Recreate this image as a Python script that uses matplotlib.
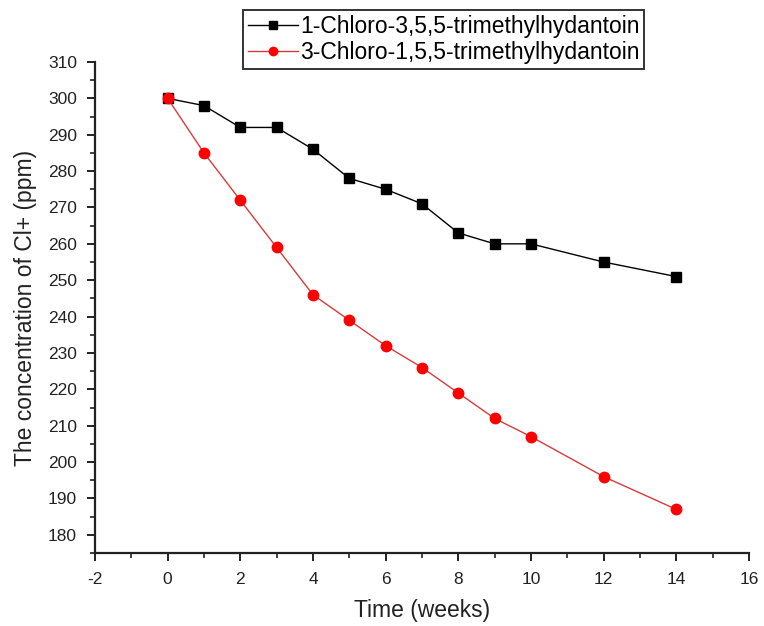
import numpy as np
import matplotlib.pyplot as plt
from matplotlib.ticker import MultipleLocator

plt.rcParams['font.family'] = ['Liberation Sans', 'DejaVu Sans']
plt.rcParams['axes.unicode_minus'] = False

# Time (weeks)
weeks = [0, 1, 2, 3, 4, 5, 6, 7, 8, 9, 10, 12, 14]
# Cl+ concentration (ppm)
cl_135 = [300, 298, 292, 292, 286, 278, 275, 271, 263, 260, 260, 255, 251]
cl_315 = [300, 285, 272, 259, 246, 239, 232, 226, 219, 212, 207, 196, 187]

lab1 = '1-Chloro-3,5,5-trimethylhydantoin'
lab2 = '3-Chloro-1,5,5-trimethylhydantoin'

fig = plt.figure(figsize=(7.64, 6.26), dpi=100)
ax = fig.add_axes([0.1243, 0.1166, 0.8560, 0.7844])

ax.plot(weeks, cl_135, color='black', lw=1.0, marker='s', ms=7.5, label=lab1)
ax.plot(weeks, cl_315, color='#d83a3a', lw=1.0, marker='o', ms=7.5,
        mfc='red', mec='red', label=lab2)

ax.set_xlim(-2, 16)
ax.set_ylim(175, 310)
ax.xaxis.set_major_locator(MultipleLocator(2))
ax.xaxis.set_minor_locator(MultipleLocator(1))
ax.yaxis.set_minor_locator(MultipleLocator(5))
ax.set_yticks(np.arange(180, 311, 10))

for s in ['top', 'right']:
    ax.spines[s].set_visible(False)
for s in ['left', 'bottom']:
    ax.spines[s].set_linewidth(1.6)
    ax.spines[s].set_color('#222222')

ax.tick_params(which='major', direction='out', length=6, width=1.4, labelsize=12.5, colors='#222222')
ax.tick_params(which='minor', direction='out', length=3.5, width=1.2, colors='#222222')
ax.tick_params(axis='x', pad=8)
ax.tick_params(axis='y', pad=7)

ax.set_xlabel('Time (weeks)', fontsize=16.5, labelpad=8, color='#222222')
ax.set_ylabel('The concentration of Cl+ (ppm)', fontsize=16.5, labelpad=8, color='#222222')

leg = fig.legend(loc='upper left', bbox_to_anchor=(0.318, 0.984), fontsize=16.5,
                 frameon=True, fancybox=False, edgecolor='#333333', framealpha=1,
                 borderpad=0.2, labelspacing=0.15, handlelength=2.2, handletextpad=0.1,
                 borderaxespad=0, markerscale=0.8)
leg.get_frame().set_linewidth(1.4)

fig.savefig('out.png', dpi=100)
